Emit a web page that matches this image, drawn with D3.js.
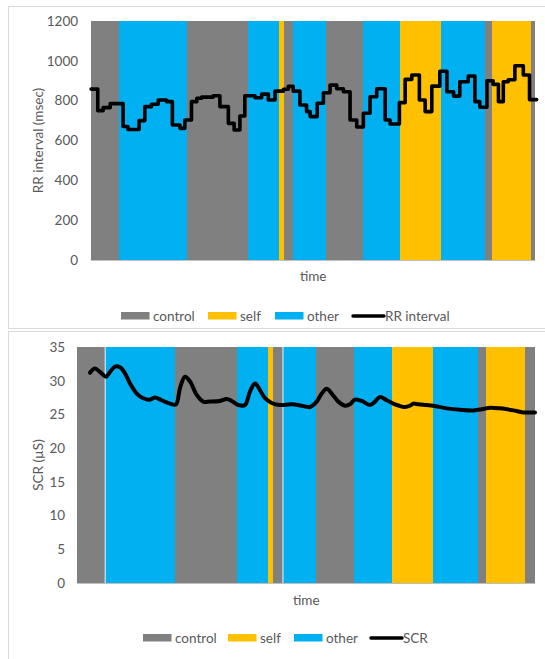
<!DOCTYPE html>
<html><head><meta charset="utf-8">
<script src="https://cdn.jsdelivr.net/npm/d3@7"></script>
<style>
html,body{margin:0;padding:0;background:#fff;}
svg{display:block;font-family:Lato,"Noto Sans",sans-serif;}
</style></head>
<body>
<svg id="chart" width="545" height="659"></svg>
<script>
// ---- data ----
const categories = ["control", "self", "other"];
const categoryColors = ["#808080", "#ffc000", "#00b0f0"];
const segmentStart = [0, 6.2, 21.6, 35.4, 42.3, 43.4, 45.5, 52.9, 61.2, 69.6, 78.7, 88.7, 90.3, 99.1];
const segmentCondition = ["control","other","control","other","self","control","other","control","other","self","other","control","self","control"];
const rrTimeEnd = 100;
const scrTimeEnd = 101.3;
const scrSeparators = [6.2, 45.5];

const rrTime = [0,1.5,2.7,4.3,7.2,8.3,10.8,12.1,13.6,15.1,17.0,18.3,20.0,21.1,22.6,23.8,24.9,27.5,29.0,30.9,32.2,33.5,34.6,36.9,38.4,39.9,41.4,43.3,44.4,45.5,47.0,48.5,49.3,50.9,52.3,53.8,55.3,56.8,58.3,59.8,61.3,62.8,64.3,66.2,67.3,69.4,70.7,72.2,73.9,75.2,76.7,78.5,80.1,81.6,83.0,84.9,86.4,87.5,89.1,90.5,91.7,92.8,93.9,95.4,97.3,98.7,100.3];
const rrValue = [858,750,765,785,670,655,700,770,782,803,795,678,661,703,795,812,818,825,770,686,653,723,825,815,833,803,848,857,872,848,778,745,720,787,840,878,860,845,703,668,737,820,860,703,683,790,907,929,803,745,873,948,845,823,895,924,795,767,900,882,795,895,905,975,929,805,805];

const scrTime = [2.83,3.94,5.04,6.37,7.25,8.36,9.46,10.57,11.68,13.16,14.62,16.10,17.20,18.69,20.52,21.85,22.73,23.84,24.94,26.43,27.88,29.36,31.57,33.06,34.16,35.62,37.11,38.21,39.32,40.42,41.53,43.01,44.85,47.43,49.64,51.48,52.96,54.07,55.17,56.28,57.74,59.22,60.32,61.43,62.91,64.75,65.85,66.96,68.44,70.28,72.49,73.59,74.32,75.43,77.28,78.75,81.71,84.65,87.59,89.80,91.28,93.49,96.43,98.65,101.23];
const scrValue = [31.2,31.8,31.3,30.6,31.3,32.1,32.0,31.1,29.6,28.1,27.4,27.2,27.5,27.1,26.6,26.5,28.9,30.6,29.9,27.9,26.9,26.9,27.0,27.3,27.0,26.4,26.4,28.4,29.6,28.6,27.4,26.7,26.4,26.5,26.3,26.1,26.9,28.1,28.8,28.1,26.9,26.3,26.5,27.2,27.0,26.4,26.9,27.6,27.1,26.5,26.1,26.3,26.6,26.5,26.4,26.3,25.9,25.7,25.6,25.8,26.0,25.9,25.6,25.3,25.3];

const rrTicks = [0,200,400,600,800,1000,1200];
const scrTicks = [0,5,10,15,20,25,30,35];

// ---- drawing ----
const svg = d3.select("#chart");
const color = d3.scaleOrdinal().domain(categories).range(categoryColors);
const textGray = "#595959";
const fontSize = 13.5;

function segments(end) {
  return segmentStart.map((s, i) => ({
    start: s,
    end: i < segmentStart.length - 1 ? segmentStart[i + 1] : end,
    cond: segmentCondition[i]
  }));
}

function panel(opt) {
  const g = svg.append("g");
  g.append("rect").attr("x", 8.5).attr("y", opt.frameTop + 0.5)
    .attr("width", 560).attr("height", opt.frameH)
    .attr("fill", "none").attr("stroke", "#d9d9d9");

  const x = d3.scaleLinear().domain([0, opt.tEnd]).range([opt.left, opt.right]);
  const y = d3.scaleLinear().domain(opt.yDomain).range([opt.bottom, opt.top]);

  g.append("g").selectAll("rect").data(segments(opt.tEnd)).join("rect")
    .attr("x", d => x(d.start)).attr("width", d => x(d.end) - x(d.start))
    .attr("y", y(opt.yDomain[1])).attr("height", y(opt.yDomain[0]) - y(opt.yDomain[1]))
    .attr("fill", d => color(d.cond)).attr("shape-rendering", "crispEdges");

  if (opt.separators) {
    g.append("g").selectAll("line").data(opt.separators).join("line")
      .attr("x1", d => x(d)).attr("x2", d => x(d))
      .attr("y1", y(opt.yDomain[1])).attr("y2", y(opt.yDomain[0]))
      .attr("stroke", "#cde8f6").attr("stroke-width", 1.2);
  }

  g.append("line").attr("x1", opt.left).attr("x2", opt.right)
    .attr("y1", y(0) + 0.5).attr("y2", y(0) + 0.5)
    .attr("stroke", "#bfbfbf").attr("stroke-width", 1);

  const ax = g.append("g").attr("transform", `translate(${opt.left},0)`)
    .call(d3.axisLeft(y).tickValues(opt.ticks).tickFormat(d3.format("d")).tickSize(0).tickPadding(opt.tickPad));
  ax.select(".domain").remove();
  ax.selectAll("text").attr("fill", textGray).style("font-size", fontSize + "px")
    .style("font-family", "Lato, 'Noto Sans', sans-serif");

  const pts = opt.times.map((t, i) => [t, opt.values[i]]);
  g.append("path").datum(pts)
    .attr("fill", "none").attr("stroke", "#000").attr("stroke-width", opt.lw)
    .attr("stroke-linejoin", "round").attr("stroke-linecap", "round")
    .attr("d", d3.line().x(d => x(d[0])).y(d => y(d[1])).curve(opt.curve));

  g.append("text").attr("transform", `translate(${opt.titleX},${(opt.top + opt.bottom) / 2}) rotate(-90)`)
    .attr("text-anchor", "middle").attr("dy", "0.35em")
    .attr("fill", textGray).style("font-size", fontSize + "px").text(opt.yTitle);

  g.append("text").attr("x", (opt.left + opt.right) / 2).attr("y", opt.timeY)
    .attr("text-anchor", "middle").attr("dy", "0.35em")
    .attr("fill", textGray).style("font-size", fontSize + "px").text("time");

  const lg = g.append("g");
  categories.forEach((c, i) => {
    lg.append("rect").attr("x", opt.legendX[i]).attr("y", opt.legendY - 4)
      .attr("width", 28.5).attr("height", 7.5).attr("fill", color(c));
    lg.append("text").attr("x", opt.legendX[i] + 32).attr("y", opt.legendY)
      .attr("dy", "0.35em").attr("fill", textGray).style("font-size", fontSize + "px").text(c);
  });
  lg.append("line").attr("x1", opt.legendX[3]).attr("x2", opt.legendX[3] + 31)
    .attr("y1", opt.legendY).attr("y2", opt.legendY)
    .attr("stroke", "#000").attr("stroke-width", 3.5).attr("stroke-linecap", "round");
  lg.append("text").attr("x", opt.legendX[3] + 32).attr("y", opt.legendY)
    .attr("dy", "0.35em").attr("fill", textGray).style("font-size", fontSize + "px").text(opt.lineName);
}

panel({
  frameTop: 6, frameH: 322,
  left: 91.1, right: 535.3, top: 21, bottom: 260,
  tEnd: rrTimeEnd, yDomain: [0, 1200], ticks: rrTicks, tickPad: 13,
  times: rrTime, values: rrValue, curve: d3.curveStepAfter, lw: 3.6,
  yTitle: "RR interval (msec)", titleX: 38, timeY: 276,
  legendX: [121, 208, 275, 353], legendY: 316, lineName: "RR interval"
});

panel({
  frameTop: 331, frameH: 340,
  left: 77.2, right: 535.3, top: 347, bottom: 583,
  tEnd: scrTimeEnd, yDomain: [0, 35], ticks: scrTicks, tickPad: 12,
  times: scrTime, values: scrValue, curve: d3.curveCatmullRom.alpha(0.5), lw: 4,
  separators: scrSeparators,
  yTitle: "SCR (µS)", titleX: 38, timeY: 600,
  legendX: [143, 228, 294, 371], legendY: 638, lineName: "SCR"
});
</script>
</body></html>
